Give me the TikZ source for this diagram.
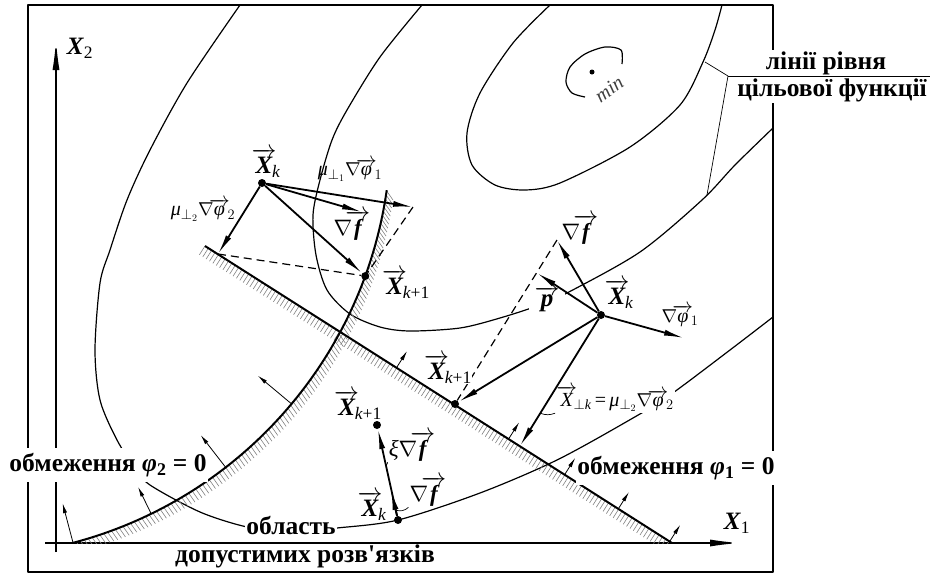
\documentclass[tikz,border=0pt]{standalone}
\usepackage{amsmath}
\usepackage{graphicx}
\usepackage{fontspec}
\setmainfont{Liberation Serif}
\usetikzlibrary{calc,arrows.meta}

\newcommand{\nab}{\scalebox{0.9}{$\nabla$}}
\newcommand{\vX}[1]{\ensuremath{\overrightarrow{\text{\bfseries\itshape X}}\mkern-3mu_{#1}}}
\newcommand{\vXr}[1]{\ensuremath{\overrightarrow{\text{\itshape X}}\mkern-3mu_{#1}}}
\newcommand{\vf}{\ensuremath{\nab\mkern-5mu\overrightarrow{\text{\bfseries\itshape f}}}}
\newcommand{\vphi}[1]{\ensuremath{\nab\mkern-4mu\overrightarrow{\text{\itshape φ}}\mkern-2mu_{#1}}}
\newcommand{\kk}{\text{\itshape k}}
\newcommand{\kn}{\text{\itshape k}\text{+1}}

\begin{document}
\begin{tikzpicture}[x=1pt, y=-1pt, line join=round,
  boxline/.style={line width=1.5pt},
  axisline/.style={line width=1.3pt, -{Latex[length=30pt,width=7pt]}},
  contour/.style={line width=1.2pt},
  cons/.style={line width=2pt},
  hatchline/.style={black!50, line width=0.6pt},
  vec/.style={line width=1.8pt, -{Latex[length=20pt,width=6pt]}},
  nrm/.style={line width=0.8pt, -{Latex[length=10pt,width=4pt]}},
  guide/.style={line width=1.2pt, dash pattern=on 8pt off 5pt},
  leader/.style={line width=0.7pt},
  dot/.style={circle, fill, inner sep=0pt, minimum size=8pt},
  lbl/.style={font=\fontsize{25}{28}\selectfont, inner sep=1pt},
  mid/.style={font=\fontsize{23}{26}\selectfont, inner sep=1pt},
  sml/.style={font=\fontsize{20}{22}\selectfont, inner sep=1pt},
  cyr/.style={font=\fontsize{25.5}{29}\selectfont\bfseries, inner sep=1pt},
  blank/.style={fill=white}]
\useasboundingbox (0,0) rectangle (930,574);

% frame and axes
\draw[boxline] (28,5) rectangle (773,572);
\coordinate (o1) at (45,543);
\coordinate (x1) at (740,543);
\coordinate (o2) at (56,552);
\coordinate (x2) at (56,40);
\draw[axisline] (o1) -- (x1);
\draw[axisline] (o2) -- (x2);
\node[lbl] (lx1) at (737,523) {\textbf{\textit{X}}\ensuremath{_{\text{1}}}};
\node[lbl] (lx2) at (80,48) {\textbf{\textit{X}}\ensuremath{_{\text{2}}}};

% level lines of the goal function
\draw[contour] plot[smooth] coordinates {(240,5) (187,83) (150,150) (127,200) (110,250) (100,283) (95,350) (100,400) (117,440) (135,468) (150,485) (200,512) (247,527) (290,532) (337,528) (398,520) (480,493) (557,460) (633,418) (670,395) (730,350) (773,317)};
\draw[contour] plot[smooth] coordinates {(422,5) (380,57) (347,110) (332,140) (320,180) (313,215) (316,255) (327,290) (350,314) (380,327) (410,331) (460,328) (500,318) (540,305) (567,293) (640,252) (702,200) (735,165) (773,128)};
\draw[contour] plot[smooth] coordinates {(550,5) (513,43) (480,93) (467,133) (472,165) (495,185) (525,190) (560,183) (630,147) (680,105) (703,62) (715,30) (722,5)};
\draw[contour] plot[smooth] coordinates {(622,64) (621,50) (605,47) (585,54) (570,67) (566,82) (572,93) (585,97)};
\node[dot, minimum size=5pt] (xmin) at (592,72) {};
\node[rotate=35, font=\fontsize{20}{22}\selectfont\itshape, text=black!75] (lmin) at (609,89) {min};

% constraints: phi1 straight, phi2 an arc round c2c
\coordinate (p1a) at (205,246);
\coordinate (p1b) at (672,543);
\coordinate (c2c) at (-36,130);
\begin{scope}
\clip (0,0) rectangle (930,543);
\foreach \t in {0,0.0072,...,1}
  \draw[hatchline] ($(p1a)!\t!(p1b)$) -- ++(-5.6,8.8);
\foreach \a in {8.2,8.75,...,75.3}
  \draw[hatchline] ($(c2c)+(\a:427)$) -- ++(55:11);
\end{scope}
\draw[cons] (p1a) -- (p1b);
\draw[cons] ($(c2c)+(75.2:427)$) arc[start angle=75.2, end angle=8.1, radius=427];

% labels that break the lines
\node[cyr, blank, inner ysep=5pt] (c2) at (108,465) {обмеження \textit{φ}\textsubscript{2} = 0};
\node[cyr, blank, inner ysep=5pt] (c1) at (676,468) {обмеження \textit{φ}\textsubscript{1} = 0};
\node[cyr, blank] (lr1) at (826,63) {лінії рівня};
\node[cyr, blank] (lr2) at (832,90) {цільової функції};
\node[cyr, blank] (reg1) at (291,525) {область};
\node[cyr] (reg2) at (305,556) {допустимих розв\textquotesingle язків};
\node[lbl, blank, inner xsep=6pt] (lp) at (547,299) {\ensuremath{\overrightarrow{\text{\bfseries\itshape p}}}};
\node[sml, blank] (lxp) at (615,399) {\vXr{\perp\kk}\,=\,\textit{μ}\ensuremath{_{\perp_2}}\vphi{2}};

\coordinate (llA) at (705,62);
\coordinate (llB) at (707,195);
\coordinate (llC) at (728,76);
\coordinate (llD) at (930,76);
\draw[leader] (llA) -- (llC) -- (llB);
\draw[leader] (llC) -- (llD);

% points
\node[dot] (xkL) at (262,183) {};
\node[dot] (xk1L) at ($(c2c)+(20:427)$) {};
\node[dot] (xkR) at (601,315) {};
\node[dot] (xk1R) at (455,404) {};
\node[dot] (xkB) at (398,520) {};
\node[dot] (xk1B) at (377,425) {};
\coordinate (m1L) at (413,207);
\coordinate (m2L) at (218,254);
\coordinate (gfL) at (362,212);
\coordinate (gfR) at (557,240);
\coordinate (pR) at (537,273);
\coordinate (gpR) at (684,338);
\coordinate (xpR) at (520,446);
\coordinate (gfB) at (391,490);

% projections
\draw[guide] (m2L) -- (xk1L);
\draw[guide] (m1L) -- (xk1L);
\draw[guide] (gfR) -- (xk1R);
\node[lbl, blank, inner sep=0pt] (lxk1R) at (448,369) {\vX{\kn}};

% vectors
\draw[vec] (xkL) -- (m1L);
\draw[vec] (xkL) -- (gfL);
\draw[vec] (xkL) -- (xk1L);
\draw[vec] (xkL) -- (m2L);
\draw[vec] (xkR) -- (gfR);
\draw[vec] (xkR) -- (pR);
\draw[vec] (xkR) -- (gpR);
\draw[vec] (xkR) -- (xk1R);
\draw[vec] (xkR) -- (xpR);
\draw[vec] (xkB) -- (xk1B);
\draw[vec] (xkB) -- (gfB);

% normals of the constraints
\foreach \t in {0.41,0.65,0.77,0.885,0.995}
  \draw[nrm] ($(p1a)!\t!(p1b)$) -- ++(10.7,-16.9);
\foreach \a/\l in {75.2/386, 64/397, 52.2/386, 39.9/383}
  \draw[nrm] ($(c2c)+(\a:427)$) -- ($(c2c)+(\a:\l)$);

% labels
\node[lbl] (lxkL) at (266,163) {\vX{\kk}};
\node[sml] (lm1L) at (350,170) {\textit{μ}\ensuremath{_{\perp_1}}\vphi{1}};
\node[sml] (lm2L) at (203,210) {\textit{μ}\ensuremath{_{\perp_2}}\vphi{2}};
\node[mid] (lgfL) at (352,225) {\vf};
\node[lbl] (lxk1L) at (406,284) {\vX{\kn}};
\node[mid] (lgfR) at (580,229) {\vf};
\node[lbl] (lxkR) at (619,294) {\vX{\kk}};
\node[sml] (lgpR) at (680,316) {\vphi{1}};
\node[lbl] (lxk1B) at (358,405) {\vX{\kn}};
\node[mid] (lxi) at (412,446) {\textit{ξ}\vf};
\node[mid] (lgfB) at (428,491) {\vf};
\node[lbl] (lxkB) at (372,506) {\vX{\kk}};

% leaders
\draw[leader] (lxi.south west) to[bend left=40] ($(xkB)!0.58!(xk1B)$);
\draw[leader] (lgfB.south west) to[bend left=30] ($(xkB)!0.33!(gfB)$);
\draw[leader] (lxp.south west) to[bend left=20] ($(xkR)!0.75!(xpR)$);
\end{tikzpicture}
\end{document}
